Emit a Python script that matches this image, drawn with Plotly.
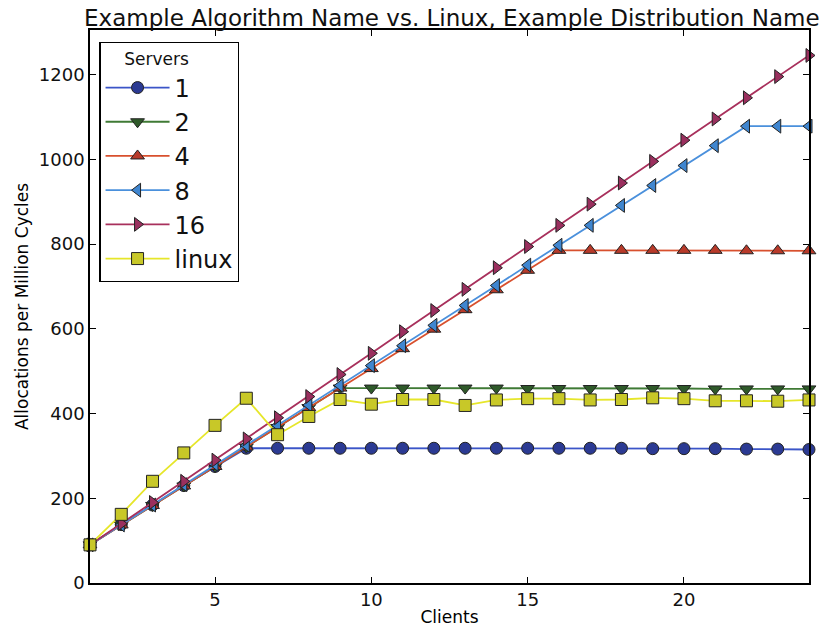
import plotly.graph_objects as go

clients = list(range(1, 25))

servers_1 = [90, 138, 184, 230, 275, 318, 318, 318, 318, 318, 318, 318, 318, 318,
             318, 318, 318, 318, 317, 317, 317, 316, 316, 315]
servers_2 = [90, 137, 183, 229, 275, 321, 367, 414, 460, 460, 460, 460, 460, 460,
             459, 459, 459, 459, 459, 459, 458, 458, 458, 458]
servers_4 = [90, 137, 183, 229, 275, 321, 367, 414, 460, 506, 553, 599, 645, 692,
             738, 785, 785, 785, 785, 785, 785, 784, 784, 784]
servers_8 = [90, 137, 184, 232, 280, 325, 372, 420, 466, 513, 560, 608, 655, 702,
             750, 797, 844, 891, 938, 985, 1032, 1078, 1078, 1078]
servers_16 = [90, 140, 190, 240, 290, 340, 390, 440, 492, 542, 593, 643, 693, 744,
              794, 844, 894, 944, 995, 1045, 1095, 1145, 1195, 1245]
linux = [90, 162, 240, 307, 372, 436, 350, 393, 433, 422, 433, 433, 419, 432,
         435, 435, 432, 433, 437, 435, 430, 430, 429, 432]

series = [
    ("1", servers_1, "circle", "#2b3a93", "#3b55c8"),
    ("2", servers_2, "triangle-down", "#2f5a2a", "#3f7a35"),
    ("4", servers_4, "triangle-up", "#b83a2a", "#d8502e"),
    ("8", servers_8, "triangle-left", "#3f86d0", "#4a90dc"),
    ("16", servers_16, "triangle-right", "#9a2f5e", "#a8305c"),
    ("linux", linux, "square", "#c8c828", "#e6e62a"),
]

fig = go.Figure()
for name, ys, symbol, mcolor, lcolor in series:
    fig.add_trace(go.Scatter(
        x=clients, y=ys, name=name, mode="lines+markers",
        line=dict(color=lcolor, width=1.8),
        marker=dict(symbol=symbol, size=12, color=mcolor,
                    line=dict(color="#222222", width=1)),
        cliponaxis=False,
    ))

axis_common = dict(
    showline=True, linecolor="black", linewidth=1.5, mirror="ticks",
    ticks="inside", ticklen=6, tickcolor="black", showgrid=False,
    zeroline=False, tickfont=dict(size=18, color="#111111"),
)

fig.update_layout(
    width=823, height=636,
    margin=dict(l=90, r=13, t=30, b=48),
    paper_bgcolor="white", plot_bgcolor="white",
    font=dict(family="DejaVu Sans", color="black"),
    title=dict(text="Example Algorithm Name vs. Linux, Example Distribution Name",
               x=0.549, xanchor="center", y=0.972, yanchor="middle",
               font=dict(size=23, color="#111111")),
    xaxis=dict(range=[1, 24], tickvals=[5, 10, 15, 20],
               title=dict(text="Clients", font=dict(size=17), standoff=2),
               **axis_common),
    yaxis=dict(range=[0, 1305], tickvals=[0, 200, 400, 600, 800, 1000, 1200],
               title=dict(text="Allocations per Million Cycles", font=dict(size=17),
                          standoff=6),
               **axis_common),
    legend=dict(
        x=0.013, y=0.978, xanchor="left", yanchor="top",
        bgcolor="white", bordercolor="black", borderwidth=1.2,
        font=dict(size=24, color="#111111"),
        title=dict(text="    Servers", font=dict(size=17), side="top"),
        itemwidth=64, tracegroupgap=0,
    ),
    showlegend=True,
)

fig.write_html("out.html")
